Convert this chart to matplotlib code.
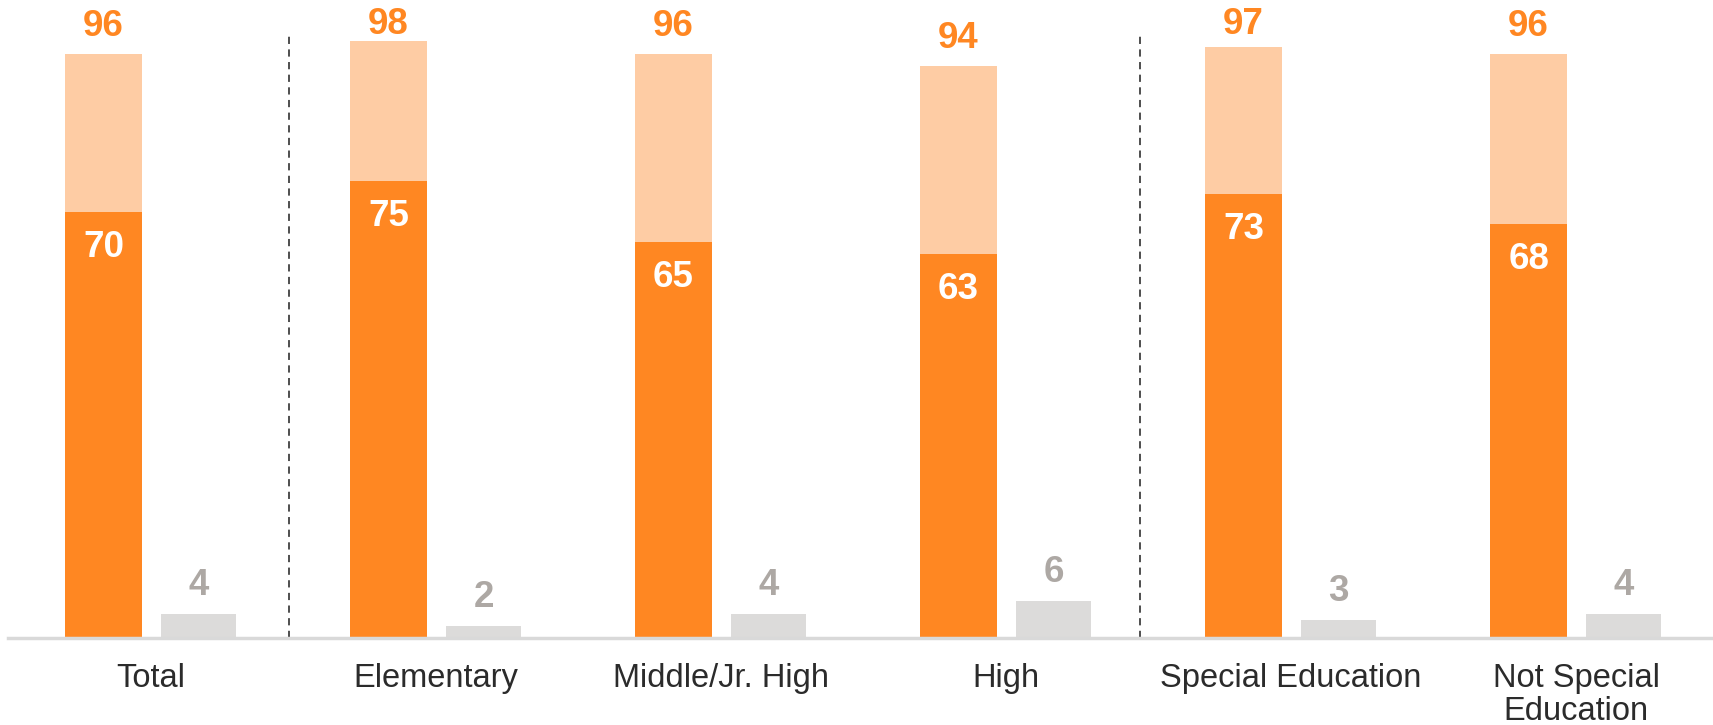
import matplotlib
matplotlib.use("Agg")
import matplotlib.pyplot as plt
import numpy as np

plt.rcParams['font.family'] = ['Liberation Sans', 'DejaVu Sans']

categories = ["Total", "Elementary", "Middle/Jr. High", "High",
              "Special Education", "Not Special\nEducation"]
agree_strong = [70, 75, 65, 63, 73, 68]
agree_total = [96, 98, 96, 94, 97, 96]
disagree = [4, 2, 4, 6, 3, 4]
dividers = [0.484, 3.47]

dark_orange = '#FF8722'
light_orange = '#FECCA4'
grey_bar = '#DCDBDA'
grey_text = '#ADA8A4'

x = np.arange(len(categories))
off = 0.167

fig = plt.figure(figsize=(17.13, 7.25), dpi=100)
ax = fig.add_axes([8 / 1713, 87 / 725, 1 - 8 / 1713, 638 / 725])

light = [t - s for t, s in zip(agree_total, agree_strong)]
ax.bar(x - off, agree_strong, width=0.27, color=dark_orange)
ax.bar(x - off, light, bottom=agree_strong, width=0.27, color=light_orange)
ax.bar(x + off, disagree, width=0.263, color=grey_bar)

# value labels; top labels are kept below the top of the chart
for i in range(len(categories)):
    ax.text(x[i] - off, min(agree_total[i] + 2.96, 99.2), str(agree_total[i]),
            ha='center', va='baseline', fontsize=26.5, fontweight='bold', color=dark_orange)
    ax.annotate(str(agree_strong[i]), (x[i] - off, agree_strong[i]), xytext=(0, -32.4),
                textcoords='offset points', ha='center', va='baseline',
                fontsize=26.5, fontweight='bold', color='white')
    ax.annotate(str(disagree[i]), (x[i] + off, disagree[i]), xytext=(0, 13.7),
                textcoords='offset points', ha='center', va='baseline',
                fontsize=26.5, fontweight='bold', color=grey_text)

for d in dividers:
    ax.plot([d, d], [0, 99.3], color='#404040', linestyle=(0, (4, 3)), linewidth=1.3)

ax.set_xlim(-0.502, 5.48)
ax.set_ylim(0, 104.8)
ax.set_xticks(x)
ax.set_xticklabels(categories, fontsize=23.5, color='#2b2b2b', linespacing=1.1, va='top')
ax.tick_params(axis='x', length=0, pad=18)
ax.set_yticks([])
for s in ['top', 'right', 'left']:
    ax.spines[s].set_visible(False)
ax.spines['bottom'].set_color('#D9D9D9')
ax.spines['bottom'].set_linewidth(2.5)

fig.savefig('out.png', dpi=100)
